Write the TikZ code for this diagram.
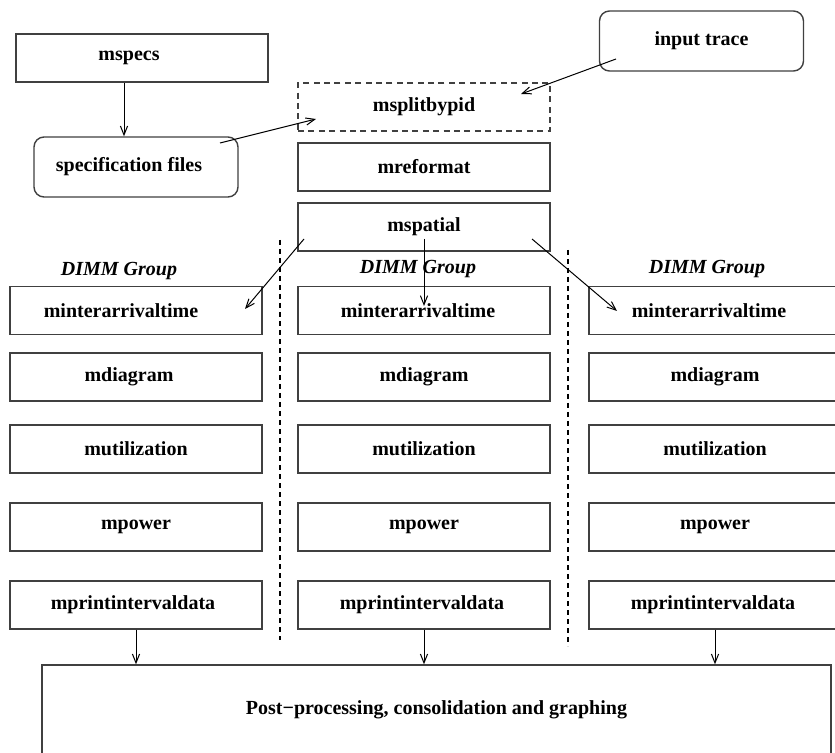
\documentclass[tikz,border=0pt]{standalone}
\usepackage{fontspec}
\setmainfont{Liberation Serif}
\usetikzlibrary{arrows.meta,calc}
\begin{document}
\begin{tikzpicture}[x=0.5pt,y=-0.5pt,
  font=\fontsize{10}{12}\selectfont\bfseries,
  box/.style={draw=black!75, line width=0.7pt, minimum width=126pt, minimum height=24pt, inner sep=0pt},
  dbox/.style={box, dash pattern=on 3pt off 2.2pt},
  rbox/.style={box, rounded corners=5pt, minimum width=102pt, minimum height=30pt},
  arr/.style={-{Straight Barb[length=4.5pt,width=3.6pt]}, line width=0.5pt, draw=black},
  sepline/.style={line width=0.6pt, dash pattern=on 2.5pt off 2pt},
  grp/.style={font=\fontsize{10}{12}\selectfont\bfseries\itshape}
]
\fill[white] (0,0) rectangle (835,753);
\useasboundingbox (0,0) rectangle (835,753);

% top part
\node[box] (mspecs) at (142,58) {mspecs\hspace*{13pt}};
\node[rbox] (spec) at (136,167) {specification files\hspace*{7pt}};
\node[rbox] (input) at (701.5,41) {input trace};
\node[dbox] (split) at (424,107) {msplitbypid};
\node[box] (reformat) at (424,167) {mreformat};
\node[box] (spatial) at (424,227) {mspatial};

% group labels
\node[grp] (gl) at (119,271) {DIMM Group};
\node[grp] (gm) at (418,269) {DIMM Group};
\node[grp] (gr) at (707,269) {DIMM Group};

% left column
\node[box] (l1) at (136,310.5) {minterarrivaltime\hspace*{15pt}};
\node[box] (l2) at (136,377) {mdiagram\hspace*{7pt}};
\node[box] (l3) at (136,449) {mutilization};
\node[box] (l4) at (136,527) {mpower};
\node[box] (l5) at (136,605) {mprintintervaldata\hspace*{3pt}};

% middle column
\node[box] (m1) at (424,310.5) {minterarrivaltime\hspace*{6pt}};
\node[box] (m2) at (424,377) {mdiagram};
\node[box] (m3) at (424,449) {mutilization};
\node[box] (m4) at (424,527) {mpower};
\node[box] (m5) at (424,605) {mprintintervaldata\hspace*{2pt}};

% right column
\node[box] (r1) at (715,310.5) {minterarrivaltime\hspace*{6pt}};
\node[box] (r2) at (715,377) {mdiagram};
\node[box] (r3) at (715,449) {mutilization};
\node[box] (r4) at (715,527) {mpower};
\node[box] (r5) at (715,605) {mprintintervaldata\hspace*{2pt}};

% bottom box
\node[box, minimum width=394.5pt, minimum height=45pt] (post) at (436.5,710) {Post−processing, consolidation and graphing};

% separators
\coordinate (s1a) at (280,240);
\coordinate (s1b) at (280,640);
\coordinate (s2a) at (568,250);
\coordinate (s2b) at (568,646);
\draw[sepline] (s1a) -- (s1b);
\draw[sepline] (s2a) -- (s2b);

% connectors
\draw[arr] ($(mspecs.south)+(-18,0)$) -- ($(spec.north)+(-12,0)$);
\draw[arr] ($(spec.center)+(84,-24)$) -- ($(split.center)+(-108,12)$);
\draw[arr] ($(input.center)+(-85.5,18)$) -- ($(split.center)+(97,-13)$);
\draw[arr] ($(spatial.center)+(-120,12)$) -- ($(l1.center)+(109,-1.5)$);
\draw[arr] ($(spatial.center)+(0,12)$) -- ($(m1.center)+(0,-4.5)$);
\draw[arr] ($(spatial.center)+(108,12)$) -- ($(r1.center)+(-98,0.5)$);
\draw[arr] (l5.south) -- (l5.south |- post.north);
\draw[arr] (m5.south) -- (m5.south |- post.north);
\draw[arr] (r5.south) -- (r5.south |- post.north);
\end{tikzpicture}
\end{document}
